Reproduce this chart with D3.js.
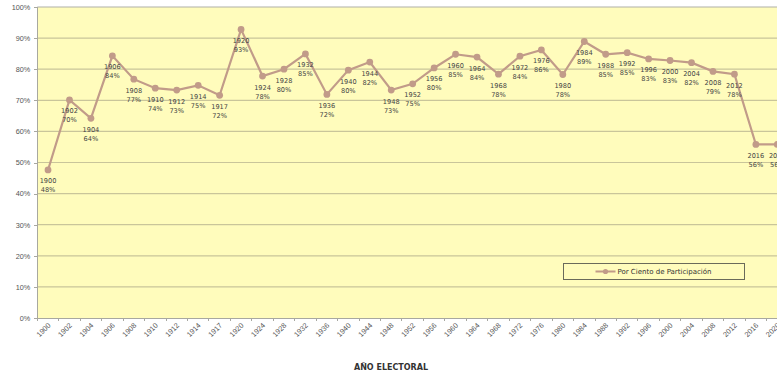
<!DOCTYPE html>
<html lang="es">
<head>
<meta charset="UTF-8"/>
<title>Participación electoral</title>
<script src="https://d3js.org/d3.v7.min.js"></script>
<style>
	body { margin: 0; background: #fff; overflow: hidden; }
	svg { font-family: "DejaVu Sans", Verdana, sans-serif; }
	.grid line { stroke: #c9c59a; stroke-width: 1.2px; }
	.axis path, .axis line { stroke: #a8a8a0; shape-rendering: crispEdges; }
	.axis text { fill: #555; font-size: 7.3px; }
	.line { fill: none; stroke: #c19b89; stroke-width: 2.2px; }
	.dot { fill: #c19b89; }
	.lbl { fill: #444; font-size: 6.6px; text-anchor: middle; }
</style>
</head>
<body>
<div id="chart"></div>
<script>
	var w = 777;
	var h = 375;

	// election years shown on the x axis
	var years = ["1900","1902","1904","1906","1908","1910","1912","1914","1917","1920",
		"1924","1928","1932","1936","1940","1944","1948","1952","1956","1960",
		"1964","1968","1972","1976","1980","1984","1988","1992","1996","2000",
		"2004","2008","2012","2016","2020"];

	// percent turnout
	var turnout = [47.6,70.1,64.2,84.3,76.8,73.9,73.3,74.8,71.6,92.8,
		77.8,80.0,84.9,71.9,79.7,82.3,73.3,75.3,80.4,84.8,
		83.9,78.4,84.2,86.2,78.3,88.9,84.8,85.3,83.3,82.8,
		82.1,79.3,78.4,55.8,55.8];

	var yTicks = [0,10,20,30,40,50,60,70,80,90,100];
	var seriesName = "Por Ciento de Participación";
	var xTitle = "AÑO ELECTORAL";

	var data = years.map(function(y, i) { return { year: y, value: turnout[i] }; });

	var padLeft = 37.3, padTop = 7, padBottom = 318;
	var step = 21.45;

	var xScale = d3.scaleBand()
		.domain(years)
		.range([padLeft, padLeft + step * years.length])
		.padding(0);

	var yScale = d3.scaleLinear()
		.domain([0, 100])
		.range([padBottom, padTop]);

	var svg = d3.select("#chart")
		.append("svg")
		.attr("width", w)
		.attr("height", h);

	// plot background
	svg.append("rect")
		.attr("x", padLeft)
		.attr("y", padTop)
		.attr("width", xScale.range()[1] - padLeft)
		.attr("height", padBottom - padTop)
		.attr("fill", "#fffcbc");

	svg.append("g")
		.attr("class", "grid")
		.selectAll("line")
		.data(yTicks.slice(1))
		.enter()
		.append("line")
		.attr("x1", padLeft)
		.attr("x2", xScale.range()[1])
		.attr("y1", function(d) { return yScale(d); })
		.attr("y2", function(d) { return yScale(d); })
		.style("stroke", function(d) { return d === 100 ? "#b0b0a8" : null; });

	// y axis
	svg.append("g")
		.attr("class", "axis")
		.attr("transform", "translate(" + padLeft + ",0)")
		.call(d3.axisLeft(yScale)
			.tickValues(yTicks)
			.tickSize(3)
			.tickPadding(4)
			.tickFormat(function(d) { return d + "%"; }));

	// x axis, ticks between categories
	var xAxis = svg.append("g")
		.attr("class", "axis")
		.attr("transform", "translate(0," + padBottom + ")")
		.call(d3.axisBottom(xScale).tickSize(0).tickFormat(""));

	xAxis.selectAll(".sep")
		.data(years)
		.enter()
		.append("line")
		.attr("class", "sep")
		.attr("x1", function(d) { return xScale(d); })
		.attr("x2", function(d) { return xScale(d); })
		.attr("y1", 0)
		.attr("y2", 3);

	xAxis.selectAll(".yr")
		.data(years)
		.enter()
		.append("text")
		.attr("class", "yr")
		.attr("text-anchor", "end")
		.attr("transform", function(d) {
			return "translate(" + (xScale(d) + xScale.bandwidth() / 2 + 3) + ",8) rotate(-45)";
		})
		.text(function(d) { return d; });

	var cx = function(d) { return xScale(d.year) + xScale.bandwidth() / 2; };

	var line = d3.line()
		.x(cx)
		.y(function(d) { return yScale(d.value); });

	svg.append("path")
		.datum(data)
		.attr("class", "line")
		.attr("d", line);

	svg.selectAll(".dot")
		.data(data)
		.enter()
		.append("circle")
		.attr("class", "dot")
		.attr("cx", cx)
		.attr("cy", function(d) { return yScale(d.value); })
		.attr("r", 3.4);

	var labels = svg.selectAll(".lbl")
		.data(data)
		.enter()
		.append("text")
		.attr("class", "lbl")
		.attr("x", cx)
		.attr("y", function(d) { return yScale(d.value) + 13.5; });

	labels.append("tspan")
		.attr("x", cx)
		.text(function(d) { return d.year; });

	labels.append("tspan")
		.attr("x", cx)
		.attr("dy", 9)
		.text(function(d) { return Math.round(d.value) + "%"; });

	// legend
	var lg = svg.append("g").attr("transform", "translate(563.5,263.5)");
	lg.append("rect")
		.attr("width", 181)
		.attr("height", 16)
		.attr("fill", "none")
		.attr("stroke", "#6a6a5a")
		.attr("stroke-width", 1);
	lg.append("line")
		.attr("x1", 32).attr("x2", 52)
		.attr("y1", 8).attr("y2", 8)
		.attr("stroke", "#c19b89")
		.attr("stroke-width", 2);
	lg.append("circle")
		.attr("cx", 42).attr("cy", 8).attr("r", 2.6)
		.attr("fill", "#c19b89");
	lg.append("text")
		.attr("x", 54)
		.attr("y", 10.5)
		.attr("fill", "#333")
		.style("font-size", "7px")
		.text(seriesName);

	svg.append("text")
		.attr("x", 391)
		.attr("y", 370)
		.attr("text-anchor", "middle")
		.attr("fill", "#333")
		.style("font-size", "8px")
		.style("font-weight", "bold")
		.text(xTitle);
</script>
</body>
</html>
